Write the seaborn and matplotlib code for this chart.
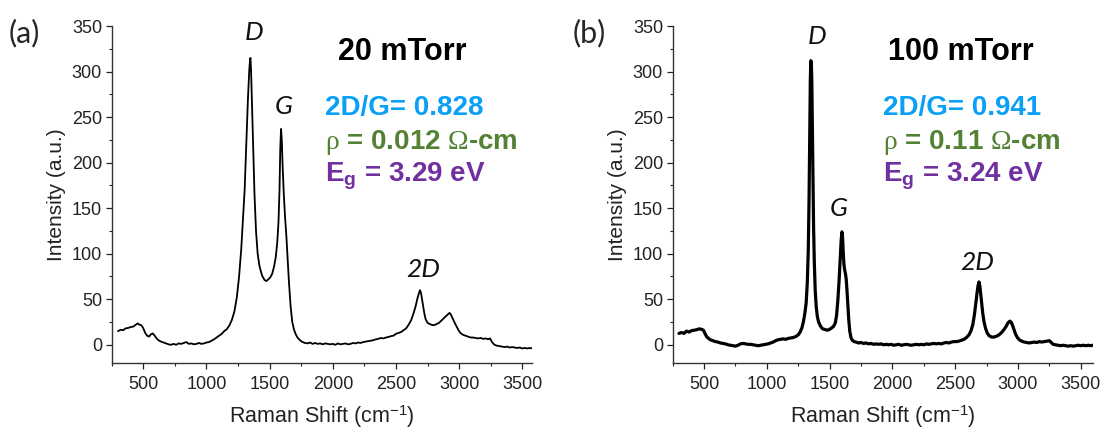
import numpy as np
import pandas as pd
import matplotlib
matplotlib.use("Agg")
import matplotlib.pyplot as plt
import seaborn as sns

# ---------------- data ----------------
shift_20 = [300, 320, 340, 360, 380, 400, 420, 440, 455, 470, 485, 500, 515, 530, 545, 560, 575, 590,
            605, 620, 640, 660, 680, 700, 720, 740, 760, 780, 800, 820, 840, 860, 880, 900, 920, 940,
            960, 980, 1000, 1020, 1040, 1060, 1080, 1100, 1120, 1140, 1160, 1180, 1200, 1220, 1240,
            1258, 1275, 1290, 1302, 1315, 1328, 1338, 1344, 1348, 1353, 1360, 1370, 1380, 1392, 1405,
            1420, 1440, 1460, 1475, 1490, 1505, 1520, 1535, 1548, 1560, 1570, 1578, 1584, 1590, 1596,
            1603, 1612, 1622, 1632, 1642, 1653, 1666, 1679, 1692, 1705, 1720, 1740, 1760, 1780, 1800,
            1820, 1840, 1860, 1880, 1900, 1920, 1940, 1960, 1980, 2000, 2020, 2040, 2060, 2080, 2100,
            2120, 2140, 2160, 2180, 2200, 2220, 2240, 2260, 2280, 2300, 2320, 2340, 2360, 2380, 2400,
            2420, 2440, 2460, 2480, 2500, 2520, 2540, 2560, 2580, 2600, 2620, 2640, 2655, 2668, 2680,
            2690, 2698, 2706, 2715, 2725, 2735, 2750, 2765, 2780, 2795, 2810, 2825, 2840, 2855, 2870,
            2885, 2900, 2915, 2925, 2935, 2945, 2955, 2965, 2980, 2995, 3010, 3030, 3050, 3070, 3090,
            3110, 3130, 3150, 3170, 3190, 3210, 3230, 3245, 3260, 3280, 3300, 3320, 3340, 3360, 3380,
            3400, 3420, 3440, 3460, 3480, 3500, 3520, 3540, 3560, 3580, 3590]
intensity_20 = [15, 16.5, 16, 18, 18.5, 19.5, 20, 22, 23.5, 22, 21.5, 18, 13, 10, 9, 11.5, 12.5, 10,
                7, 5, 3.5, 2.5, 1.5, 0.5, 0, 1, 0, 1.5, 1, 2, 3, 1, 1.5, 0.5, 1, 2,
                1, 1.5, 2.5, 3, 4.5, 6, 8, 10, 12, 15, 17, 21, 27, 36, 52,
                75, 105, 140, 170, 220, 270, 300, 312, 315, 300, 265, 215, 165, 125, 100,
                86, 76, 71, 70, 72, 74, 78, 86, 96, 112, 135, 170, 215, 237, 225,
                195, 165, 140, 120, 95, 68, 42, 25, 17, 12, 8, 5, 3, 2, 1.5,
                2.5, 1, 2, 1, 1.5, 0.5, 1.5, 1, 0.5, 1, 0, 1.5, 0.5, 1, 1.5,
                0.5, 1, 2, 1.5, 2.5, 2, 3, 3.5, 4, 4.5, 5, 6, 6.5, 7.5, 7,
                8, 8.5, 9.5, 10, 12, 13, 14, 16, 18, 22, 27, 35, 42, 50, 56,
                60, 57, 50, 42, 34, 28, 24, 23, 22, 21.5, 22, 23, 24, 26, 28,
                30, 32, 34, 35, 33, 30, 27, 24, 20, 16, 13, 11, 10, 9, 8,
                8, 7.5, 7, 7.5, 6.5, 7, 6, 7, 3, 0, -1, -1.5, -2, -2.5, -2,
                -3, -2.5, -3, -3.5, -3, -4, -3.5, -4, -3.5, -4, -3.5]

shift_100 = [300, 320, 340, 360, 380, 400, 420, 440, 460, 480, 495, 505, 520, 535, 550, 570, 590, 610,
             630, 650, 670, 690, 710, 730, 750, 770, 790, 810, 830, 850, 870, 890, 910, 930, 950, 970,
             990, 1010, 1030, 1050, 1070, 1090, 1110, 1130, 1150, 1170, 1190, 1210, 1230, 1250, 1265,
             1280, 1292, 1303, 1313, 1322, 1330, 1336, 1341, 1346, 1350, 1354, 1358, 1362, 1367, 1372,
             1378, 1385, 1393, 1402, 1412, 1425, 1440, 1455, 1470, 1485, 1500, 1515, 1530, 1545, 1555,
             1565, 1575, 1585, 1592, 1598, 1603, 1608, 1614, 1620, 1626, 1632, 1638, 1645, 1652, 1660,
             1670, 1680, 1695, 1710, 1730, 1750, 1770, 1790, 1810, 1830, 1850, 1870, 1890, 1910, 1930,
             1950, 1970, 1990, 2010, 2030, 2050, 2070, 2090, 2110, 2130, 2150, 2170, 2190, 2210, 2230,
             2250, 2270, 2290, 2310, 2330, 2350, 2370, 2390, 2410, 2430, 2450, 2470, 2490, 2510, 2530,
             2550, 2570, 2590, 2610, 2625, 2640, 2652, 2664, 2674, 2682, 2690, 2697, 2704, 2712, 2720,
             2730, 2742, 2755, 2770, 2790, 2810, 2830, 2850, 2870, 2890, 2905, 2920, 2935, 2945, 2955,
             2965, 2980, 2995, 3010, 3030, 3050, 3070, 3090, 3110, 3130, 3150, 3170, 3190, 3210, 3230,
             3250, 3265, 3280, 3300, 3320, 3340, 3360, 3380, 3400, 3420, 3440, 3460, 3480, 3500, 3520,
             3540, 3560, 3580, 3595]
intensity_100 = [12.5, 13.5, 12.5, 15, 14, 15.5, 16, 16.5, 17.5, 17, 16, 13, 9, 7, 5.5, 4.5, 3.5, 3,
                 2, 1.5, 1, 0, -0.5, -1, -1.5, -0.5, 1, 1.5, 1, 0.5, 0.5, 0, -0.5, -1, -0.5, 0,
                 0.5, 1, 2, 3, 4.5, 5.5, 6, 6.5, 6, 7, 7.5, 8, 9, 11, 14,
                 19, 26, 35, 46, 68, 105, 160, 230, 290, 312, 310, 290, 245, 185, 130,
                 90, 60, 42, 31, 25, 21, 18, 17, 16.5, 16, 17, 18.5, 20, 24, 32,
                 48, 70, 96, 115, 124, 118, 102, 88, 82, 78, 72, 60, 44, 28, 15,
                 8, 5, 3.5, 3, 2, 2.5, 1.5, 2, 1, 1.5, 0.5, 1, 0.5, 1, 0,
                 0.5, 0, 0.5, -0.5, 0, 0.5, -0.5, 0, 0.5, 0, -0.5, 0, 0.5, 0, 0.5,
                 0, 1, 0.5, 1, 1.5, 1, 1.5, 1, 2, 2.5, 2, 3, 3.5, 3.5, 4,
                 5, 6, 8, 11, 15, 22, 32, 45, 57, 65, 69, 64, 55, 44, 34,
                 25, 18, 13, 10, 8.5, 8.5, 9.5, 11, 13.5, 17, 20, 24, 26, 25, 22,
                 18, 12, 8, 5.5, 4, 3, 2.5, 2, 2.5, 3, 2.5, 3.5, 3, 3.5, 4,
                 4.5, 2.5, 0.5, 0, -0.5, -1, -0.5, -1, -1.5, -1, -1.5, -1, -0.5, -1, -0.5,
                 -1, -0.5, -1, -0.5]

panel_tags = ["(a)", "(b)"]
pressures = ["20 mTorr", "100 mTorr"]
ratio_2dg = ["0.828", "0.941"]
resistivity = ["0.012", "0.11"]
bandgap = ["3.29", "3.24"]
peak_names = ["D", "G", "2D"]
peak_pos_20 = [(1380, 343), (1612, 262), (2712, 83)]
peak_pos_100 = [(1401, 338), (1573, 150), (2672, 90)]
x_ticks = [500, 1000, 1500, 2000, 2500, 3000, 3500]
y_ticks = [0, 50, 100, 150, 200, 250, 300, 350]

# ---------------- style ----------------
sns.set_style("ticks")
plt.rcParams["font.family"] = ["Liberation Sans", "DejaVu Sans"]
plt.rcParams["mathtext.fontset"] = "custom"
plt.rcParams["mathtext.rm"] = "Liberation Serif"
plt.rcParams["mathtext.it"] = "Liberation Serif"
plt.rcParams["mathtext.bf"] = "Liberation Sans:bold"
plt.rcParams["mathtext.sf"] = "Liberation Sans"

BLUE = "#0AA0F5"
GREEN = "#548235"
PURPLE = "#7030A0"
TXT = "#222222"

fig = plt.figure(figsize=(11.01, 4.30), dpi=100)
ax_a = fig.add_axes([0.1015, 0.1558, 0.3815, 0.7837])
ax_b = fig.add_axes([0.6110, 0.1558, 0.3820, 0.7837])

panels = [
    (ax_a, shift_20, intensity_20, peak_pos_20, 1.3, (300, 3575)),
    (ax_b, shift_100, intensity_100, peak_pos_100, 2.3, (300, 3600)),
]

for i, (ax, xs, ys, ppos, lw, xlim) in enumerate(panels):
    df = pd.DataFrame({"shift": xs, "intensity": ys})
    sns.lineplot(data=df, x="shift", y="intensity", ax=ax, color="black", lw=lw,
                 estimator=None, sort=False)
    ax.set_xlim(*xlim)
    ax.set_ylim(-20, 350)
    ax.set_xticks(x_ticks)
    ax.set_yticks(y_ticks)
    ax.set_xticks(np.arange(250, 3600, 500), minor=True)
    ax.set_yticks(np.arange(25, 350, 50), minor=True)
    ax.tick_params(axis="both", which="major", direction="out", length=4, width=0.9,
                   labelsize=13, colors=TXT, pad=3)
    ax.tick_params(axis="x", which="major", pad=5)
    ax.tick_params(axis="both", which="minor", direction="out", length=2.5, width=0.8,
                   colors=TXT)
    sns.despine(ax=ax)
    for sp in ("left", "bottom"):
        ax.spines[sp].set_linewidth(1.0)
        ax.spines[sp].set_color("#333333")
    ax.set_xlabel(r"Raman Shift (cm$^{\mathsf{-1}}$)", fontsize=15.5, color=TXT, labelpad=8)
    ax.set_ylabel("Intensity (a.u.)", fontsize=15, color=TXT, labelpad=4)

    for name, (px, py) in zip(peak_names, ppos):
        ax.text(px, py, name, fontsize=19, style="italic", family=["Lato", "DejaVu Sans"],
                ha="center", va="center", color="#111111")

    tx = 0.539 if i == 0 else 0.512
    ax.text(tx, 0.923, pressures[i], transform=ax.transAxes, fontsize=22, fontweight="bold",
            ha="left", va="center", color="black")
    lx = 0.508 if i == 0 else 0.500
    ax.text(lx, 0.757, f"2D/G= {ratio_2dg[i]}", transform=ax.transAxes, fontsize=20,
            fontweight="bold", ha="left", va="center", color=BLUE)
    ax.text(lx, 0.653, r"$\rho$" + f" = {resistivity[i]} " + r"$\Omega$" + "-cm",
            transform=ax.transAxes, fontsize=20, fontweight="bold", ha="left", va="center",
            color=GREEN)
    ax.text(lx, 0.555, r"$\mathbf{E_g}$" + f" = {bandgap[i]} eV", transform=ax.transAxes,
            fontsize=20, fontweight="bold", ha="left", va="center", color=PURPLE)

fig.text(0.008, 0.922, panel_tags[0], fontsize=22, family=["Lato", "DejaVu Sans"],
         ha="left", va="center")
fig.text(0.520, 0.922, panel_tags[1], fontsize=22, family=["Lato", "DejaVu Sans"],
         ha="left", va="center")

fig.savefig("out.png", dpi=100)
